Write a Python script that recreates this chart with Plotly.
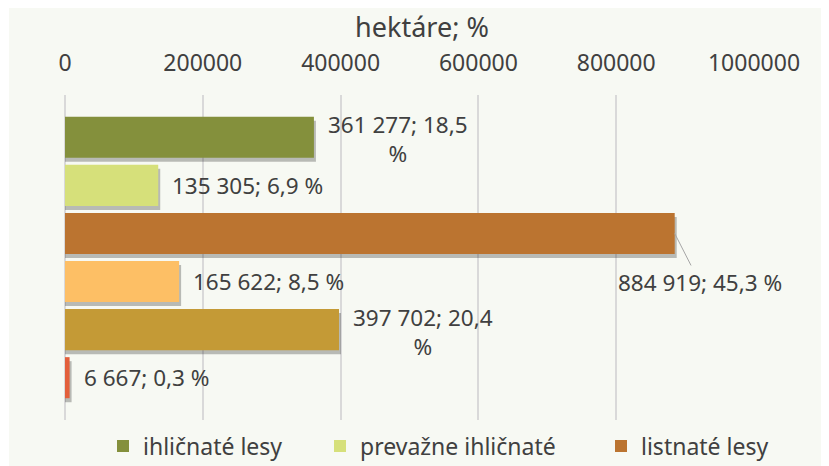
import plotly.graph_objects as go

# ---------------- data ----------------
categories = ["ihličnaté lesy", "prevažne ihličnaté", "listnaté lesy",
              "prevažne listnaté", "zmiešané lesy", "ostatné"]
hectares = [361277, 135305, 884919, 165622, 397702, 6667]
percent = [18.5, 6.9, 45.3, 8.5, 20.4, 0.3]
legend_shown = [True, True, True, False, False, False]
wrapped = [True, False, False, False, True, False]
tick_values = [0, 200000, 400000, 600000, 800000, 1000000]
axis_title = "hektáre; %"

# ---------------- style ----------------
colors = ["#84903c", "#d6e07a", "#bb7430", "#fdbf65", "#c49a36", "#e35f3b"]
panel_color = "#f7f9f3"
text_color = "#404040"
font_family = "Noto Sans"

OFF = 8                                  # page body margin of the html
W, H = 829 - OFF, 466 - OFF              # figure size
L, R, T, B = 65 - OFF, 754 - OFF, 95 - OFF, 420 - OFF   # plot area (figure px)
PW, PH = R - L, B - T
x_max = 1000000
px_x = x_max / PW                        # data units per pixel (x)
band = 48.0                              # pixels per category
y_pad = 0.88                             # category units of padding
bar_w = 0.854
legend_left = [103 - OFF, 320 - OFF, 601 - OFF]   # legend entry left edges
legend_mid_y = 446 - OFF


def fmt_label(v, p, wrap):
    num = f"{v:,}".replace(",", " ")
    pct = f"{p:.1f}".replace(".", ",")
    head = f"{num}; {pct}"
    return head + ("<br>%" if wrap else " %")


fig = go.Figure()

# shadows
for cat, v in zip(categories, hectares):
    fig.add_trace(go.Bar(
        y=[cat], x=[v + 2 * px_x], orientation="h",
        width=bar_w, offset=-bar_w / 2 + 4 / band,
        marker=dict(color="rgba(40,40,40,0.30)", line=dict(width=0)),
        showlegend=False, hoverinfo="skip"))

# bars
legend_ids = ["legend", "legend2", "legend3"]
k = 0
for cat, v, c, sl in zip(categories, hectares, colors, legend_shown):
    kw = {}
    if sl:
        kw["legend"] = legend_ids[k]
        k += 1
    fig.add_trace(go.Bar(
        y=[cat], x=[v], orientation="h", name=cat,
        width=bar_w, offset=-bar_w / 2,
        marker=dict(color=c, line=dict(width=0)),
        showlegend=sl, **kw))

# data labels
lab_font = dict(size=22.5, color=text_color, family=font_family)
for cat, v, p, wr in zip(categories, hectares, percent, wrapped):
    txt = fmt_label(v, p, wr)
    if v > 0.8 * x_max:
        fig.add_annotation(x=v, y=cat, text=txt, showarrow=True,
                           arrowhead=0, arrowwidth=1, arrowcolor="#a6a6a6",
                           ax=25, ay=49, standoff=0, font=lab_font)
    else:
        fig.add_annotation(x=v, y=cat, text=txt, showarrow=False,
                           xanchor="left", yanchor="middle", align="center",
                           xshift=12, yshift=-2 if wr else 0, font=lab_font)

# panel background (white border around)
fig.add_shape(type="rect", xref="paper", yref="paper", layer="below",
              x0=(9 - OFF - L) / PW, x1=(W - L) / PW,
              y0=(B - H) / PH, y1=(B - 0) / PH,
              line=dict(width=0), fillcolor=panel_color)

leg_common = dict(orientation="h", xref="container", yref="container",
                  xanchor="left", yanchor="middle", y=1 - legend_mid_y / H,
                  bgcolor="rgba(0,0,0,0)",
                  font=dict(size=23, color=text_color, family=font_family))

fig.update_layout(
    width=W, height=H,
    margin=dict(l=L, r=W - R, t=T, b=H - B, pad=0, autoexpand=False),
    paper_bgcolor="white", plot_bgcolor="rgba(0,0,0,0)",
    barmode="overlay",
    font=dict(family=font_family, color=text_color, size=22),
    title=dict(text=axis_title, xref="paper", x=(422 - OFF - L) / PW,
               yref="container", y=1 - (28 - OFF) / H, xanchor="center", yanchor="middle",
               font=dict(size=27, color=text_color, family=font_family)),
    xaxis=dict(side="top", range=[0, x_max], tickvals=tick_values,
               ticktext=[str(t) for t in tick_values],
               showgrid=True, gridcolor="#d9d9d9", gridwidth=1.5,
               zeroline=True, zerolinecolor="#d9d9d9", zerolinewidth=1.5,
               showline=False, ticks="", automargin=False,
               ticklabelstandoff=18,
               tickfont=dict(size=23, color=text_color, family=font_family)),
    yaxis=dict(type="category", categoryorder="array", categoryarray=categories,
               range=[len(categories) - 1 + y_pad, -y_pad], automargin=False,
               showticklabels=False, showgrid=False, zeroline=False, showline=False),
    legend=dict(x=legend_left[0] / W, **leg_common),
    legend2=dict(x=legend_left[1] / W, **leg_common),
    legend3=dict(x=legend_left[2] / W, **leg_common),
    showlegend=True,
)

fig.write_html("out.html")
